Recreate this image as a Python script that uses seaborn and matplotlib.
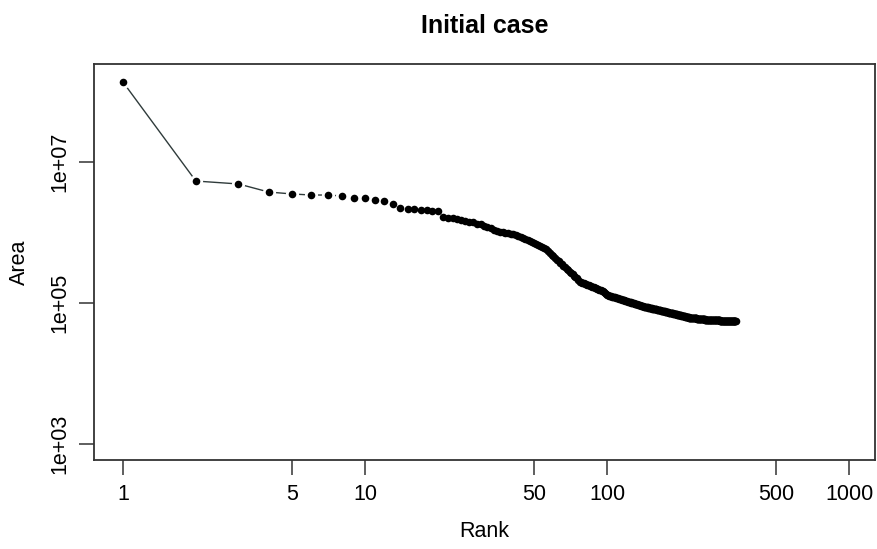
import numpy as np
import pandas as pd
import matplotlib
matplotlib.use("Agg")
import matplotlib.pyplot as plt
import seaborn as sns

# area (in thousands) for each rank
top_ranks_k = [136000, 5370, 4880, 3750, 3520, 3400, 3400, 3300, 3080, 3050,
               2920, 2800, 2540, 2220, 2150, 2120, 2080, 2080, 2050, 2020]
tail_k = [
    1660, 1620, 1590, 1550, 1510, 1470, 1430, 1390, 1340, 1300,
    1250, 1200, 1150, 1100, 1060, 1020, 1000, 985, 970, 955, 945, 933,
    900, 870, 840, 810, 790, 765, 741,
    720, 695, 670, 645, 620, 598, 575,
    545, 515, 485, 460, 432, 407,
    390, 372, 355, 338, 320, 305, 290, 275,
    265, 255, 245, 235, 224, 212, 200,
    197, 194, 191, 188, 185, 182, 179, 176, 173, 170,
    168, 165, 163, 160, 158, 155, 152, 149, 146, 142, 138, 134, 129,
    128, 127, 126, 124, 123, 122, 121, 120, 118, 117, 116, 115, 114, 113,
    112, 111, 110, 109, 108, 107, 106, 105, 104, 103, 102,
    101, 100, 99.5, 99, 98, 97, 96.5, 96, 95, 94, 93.5, 93, 92, 91, 90.5,
    90, 89, 88.5, 88, 87.5, 87, 86.5, 86, 85.5, 85,
    84.6, 84.2, 83.8, 83.4, 83.0, 82.6, 82.2, 81.8, 81.4, 81.0, 80.6, 80.2,
    79.8, 79.4, 79.0, 78.6, 78.2, 77.8, 77.4, 77.0, 76.6, 76.2, 75.8, 75.4,
    75.0, 74.6, 74.2, 73.8, 73.4, 73.0, 72.7, 72.4,
    72.1, 71.8, 71.5, 71.3, 71.0, 70.7, 70.4, 70.1, 69.8, 69.5, 69.2, 68.9,
    68.6, 68.3, 68.0, 67.7, 67.4, 67.1, 66.8, 66.5, 66.2, 65.9, 65.6, 65.3,
    65.0, 64.7, 64.4, 64.2, 63.9, 63.6, 63.4, 63.1, 62.8, 62.6, 62.3, 62.0,
    61.8, 61.7,
    61.6, 61.5, 61.4, 61.3, 61.2, 61.1, 61.0, 60.9, 60.8, 60.7,
    60.6, 60.5, 60.4, 60.3, 60.2, 60.1, 60.0, 59.9, 59.8, 59.7,
    59.6, 59.5, 59.4, 59.3, 59.2, 59.1, 59.0, 58.9, 58.8, 58.7,
    58.6, 58.5, 58.4, 58.3, 58.2, 58.1, 58.0, 57.9, 57.85, 57.8,
    57.75, 57.7, 57.65, 57.6, 57.55, 57.5, 57.5,
    57.4, 57.4, 57.4, 57.3, 57.3, 57.2, 57.2, 57.1, 57.1, 57.0, 57.0, 56.9,
    56.9, 56.9, 56.8, 56.8, 56.7, 56.7, 56.7, 56.6, 56.6, 56.6, 56.5, 56.5,
    56.5, 56.4, 56.4, 56.4, 56.3, 56.3, 56.3, 56.2, 56.2, 56.2, 56.2, 56.1,
    56.1, 56.1, 56.1, 56.0, 56.0, 56.0, 56.0, 55.9, 55.9, 55.9, 55.9, 55.9,
    55.8, 55.8, 55.8, 55.8, 55.8, 55.7, 55.7, 55.7, 55.7, 55.7, 55.7, 55.6,
    55.6, 55.6, 55.6, 55.6, 55.6, 55.6, 55.5, 55.5, 55.5, 55.5, 55.5, 55.5,
    55.4,
]
x_ticks = [1, 5, 10, 50, 100, 500, 1000]
y_ticks = [1e3, 1e5, 1e7]
y_tick_labels = ["1e+03", "1e+05", "1e+07"]

area_k = top_ranks_k + tail_k
df = pd.DataFrame({"rank": np.arange(1, len(area_k) + 1),
                   "area": np.array(area_k) * 1000})

sns.set_style("white")
plt.rcParams["font.family"] = ["Liberation Sans", "DejaVu Sans"]
axis_col = "#333333"

fig = plt.figure(figsize=(8.78, 5.49), dpi=100)
ax = fig.add_axes([94 / 878, 89 / 549, 781 / 878, 396 / 549])

sns.lineplot(data=df, x="rank", y="area", color="#2f3b3b", linewidth=1.0, ax=ax, zorder=1)
# white halo so the line stops short of each point, like R's type="b"
sns.scatterplot(data=df, x="rank", y="area", s=90, color="white", linewidth=0, ax=ax, zorder=2)
sns.scatterplot(data=df, x="rank", y="area", s=30, color="black", linewidth=0, ax=ax, zorder=3)

ax.set_xscale("log")
ax.set_yscale("log")
ax.set_xlim(10 ** -0.1198, 10 ** 3.107)
ax.set_ylim(10 ** 2.773, 10 ** 8.39)
ax.set_xticks(x_ticks)
ax.set_xticklabels([str(t) for t in x_ticks])
ax.set_yticks(y_ticks)
ax.set_yticklabels(y_tick_labels, rotation=90, va="center")
ax.minorticks_off()

for sp in ax.spines.values():
    sp.set_color(axis_col)
    sp.set_linewidth(1.3)
ax.tick_params(axis="both", which="major", bottom=True, left=True, direction="out",
               length=11, width=1.1, color=axis_col,
               labelsize=15.5, labelcolor="black", pad=6)

ax.set_xlabel("Rank", fontsize=15.5, labelpad=12, color="black")
ax.set_ylabel("Area", fontsize=15.5, labelpad=14, color="black")
ax.set_title("Initial case", fontsize=18, fontweight="bold", pad=22, color="black")

fig.savefig("out.png", dpi=100)
